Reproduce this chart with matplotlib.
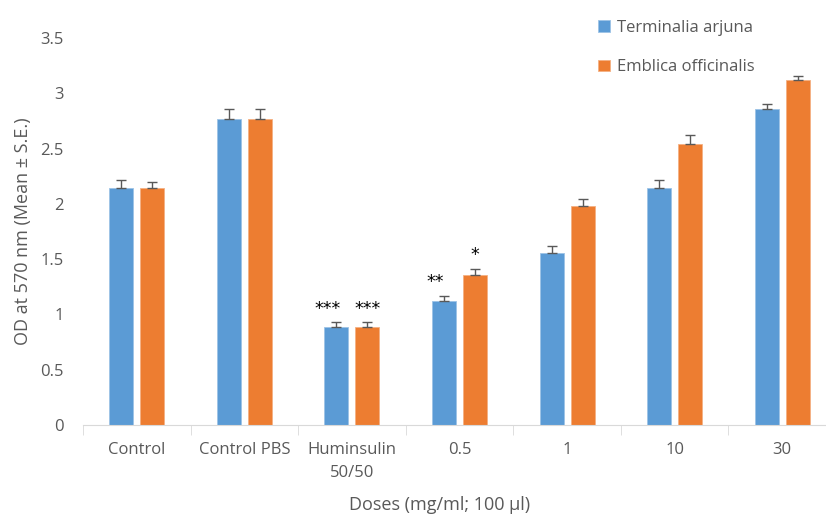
import numpy as np
import matplotlib
matplotlib.use("Agg")
from matplotlib import pyplot as plt

plt.rcParams['font.family'] = ['Open Sans', 'DejaVu Sans']

# data
groups = ["Control", "Control PBS", "Huminsulin\n50/50", "0.5", "1", "10", "30"]
arjuna = [2.14, 2.77, 0.89, 1.12, 1.56, 2.14, 2.855]
arjuna_se = [0.08, 0.09, 0.04, 0.05, 0.06, 0.08, 0.045]
emblica = [2.14, 2.77, 0.89, 1.355, 1.98, 2.54, 3.12]
emblica_se = [0.06, 0.09, 0.04, 0.06, 0.06, 0.08, 0.035]
arjuna_stars = ["", "", "***", "**", "", "", ""]
emblica_stars = ["", "", "***", "*", "", "", ""]

blue = "#5B9BD5"
orange = "#ED7D31"
grey = "#595959"

fig = plt.figure(figsize=(8.26, 5.16), dpi=100)
ax = fig.add_axes([83 / 826, (516 - 425) / 516, 753 / 826, (425 - 38) / 516])

x = np.arange(len(groups))
w = 0.223
off = 0.144
ekw = dict(ecolor=grey, elinewidth=1, capsize=3.5, capthick=1)

# excel style: only the upper half of the error bar
ax.bar(x - off, arjuna, w, color=blue, edgecolor="#9DC3E6", linewidth=0.6,
       yerr=[np.zeros(len(groups)), arjuna_se], error_kw=ekw,
       label="Terminalia arjuna", zorder=2)
ax.bar(x + off, emblica, w, color=orange, edgecolor="#F4B183", linewidth=0.6,
       yerr=[np.zeros(len(groups)), emblica_se], error_kw=ekw,
       label="Emblica officinalis", zorder=2)

# significance stars (the arjuna ones sit a little left of their bar)
for i in range(len(groups)):
    if arjuna_stars[i]:
        ax.text(x[i] - off - 0.08, arjuna[i] + arjuna_se[i] + 0.04, arjuna_stars[i],
                ha="center", va="bottom", fontsize=12.5, color="black",
                family="DejaVu Sans")
    if emblica_stars[i]:
        ax.text(x[i] + off, emblica[i] + emblica_se[i] + 0.04, emblica_stars[i],
                ha="center", va="bottom", fontsize=12.5, color="black",
                family="DejaVu Sans")

ax.set_xlim(-0.5, len(groups) - 0.5)
ax.set_ylim(0, 3.5)
ax.set_yticks(np.arange(0, 3.51, 0.5))
ax.set_yticklabels(["0", "0.5", "1", "1.5", "2", "2.5", "3", "3.5"])

ax.set_xticks(x)
ax.set_xticklabels(groups, linespacing=1.6)
ax.set_xticks(np.arange(-0.5, len(groups), 1.0), minor=True)
ax.tick_params(axis="x", which="major", length=0, pad=12, labelsize=12, labelcolor=grey)
ax.tick_params(axis="x", which="minor", length=7, color="#D9D9D9", direction="out")
ax.tick_params(axis="y", length=0, pad=14, labelsize=12, labelcolor=grey)

for s in ["top", "right", "left"]:
    ax.spines[s].set_visible(False)
ax.spines["bottom"].set_color("#D9D9D9")

ax.set_ylabel("OD at 570 nm (Mean ± S.E.)", fontsize=13, color=grey, labelpad=6)
ax.set_xlabel("Doses (mg/ml; 100 µl)", fontsize=13, color=grey)
ax.xaxis.set_label_coords((440 - 83) / 753, -(516 - 425 - 2) / 387)
ax.xaxis.label.set_va("bottom")

ax.legend(loc="upper left", bbox_to_anchor=((583 - 83) / 753, 1.085),
          frameon=False, fontsize=12, handlelength=0.7, handleheight=0.7,
          labelspacing=1.4, handletextpad=0.45, labelcolor=grey)

fig.savefig("out.png", dpi=100)
